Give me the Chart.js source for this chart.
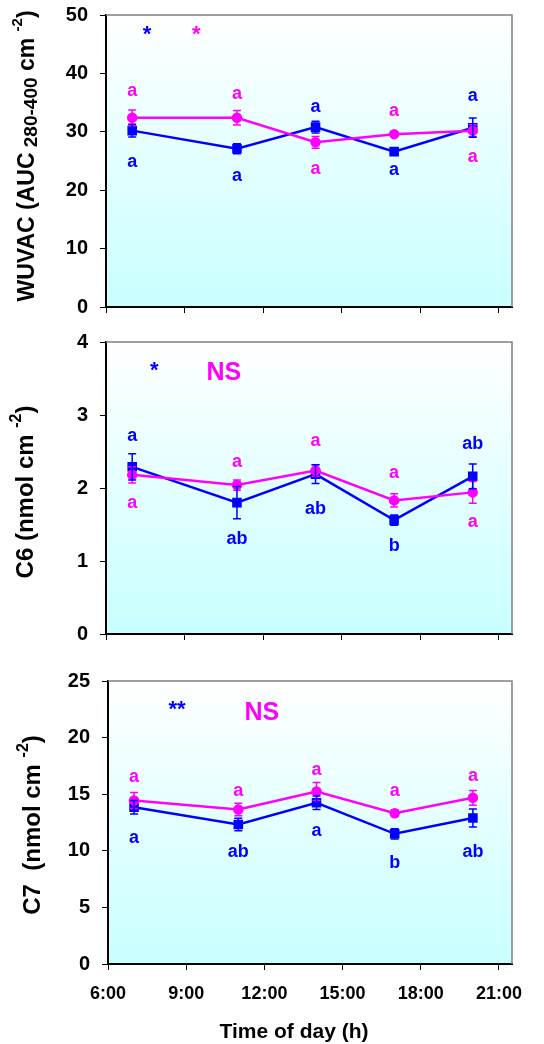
<!DOCTYPE html>
<html>
<head>
<meta charset="utf-8">
<script src="https://cdn.jsdelivr.net/npm/chart.js@4.4.0/dist/chart.umd.min.js"></script>
<style>
  body { margin: 0; background: #fff; }
  canvas { position: absolute; left: 0; }
</style>
</head>
<body>
<canvas id="wuvac" width="544" height="330" style="top:0"></canvas>
<canvas id="c6" width="544" height="330" style="top:330px"></canvas>
<canvas id="c7" width="544" height="384" style="top:660px"></canvas>
<script>
const FONT = "'Liberation Sans', Arial, sans-serif";
const BLUE = '#0000ff';
const PINK = '#ff00ff';

const hours = [7, 11, 14, 17, 20];
const hourTicks = [6, 9, 12, 15, 18, 21];
const hourLabels = ['6:00', '9:00', '12:00', '15:00', '18:00', '21:00'];

// WUVAC
const wuvacBlue = [30.2, 27.1, 30.8, 26.6, 30.7];
const wuvacBlueErr = [1.1, 0.85, 1.0, 0.4, 1.65];
const wuvacPink = [32.4, 32.4, 28.2, 29.6, 30.2];
const wuvacPinkErr = [1.35, 1.25, 1.0, 0.3, 1.0];
const wuvacBlueLetters = ['a', 'a', 'a', 'a', 'a'];
const wuvacBlueLetterY = [24.9, 22.5, 34.3, 23.4, 36.2];
const wuvacPinkLetters = ['a', 'a', 'a', 'a', 'a'];
const wuvacPinkLetterY = [36.9, 36.5, 23.7, 33.5, 25.6];

// C6
const c6Blue = [2.29, 1.80, 2.19, 1.56, 2.16];
const c6BlueErr = [0.18, 0.22, 0.13, 0.07, 0.17];
const c6Pink = [2.18, 2.04, 2.24, 1.83, 1.94];
const c6PinkErr = [0.11, 0.07, 0.08, 0.09, 0.15];
const c6BlueLetters = ['a', 'ab', 'ab', 'b', 'ab'];
const c6BlueLetterY = [2.71, 1.30, 1.71, 1.21, 2.60];
const c6PinkLetters = ['a', 'a', 'a', 'a', 'a'];
const c6PinkLetterY = [1.79, 2.36, 2.65, 2.21, 1.53];

// C7
const c7Blue = [13.85, 12.32, 14.24, 11.5, 12.9];
const c7BlueErr = [0.6, 0.55, 0.6, 0.45, 0.8];
const c7Pink = [14.44, 13.65, 15.24, 13.32, 14.68];
const c7PinkErr = [0.7, 0.55, 0.8, 0.3, 0.65];
const c7BlueLetters = ['a', 'ab', 'a', 'b', 'ab'];
const c7BlueLetterY = [11.15, 9.85, 11.75, 8.9, 9.9];
const c7PinkLetters = ['a', 'a', 'a', 'a', 'a'];
const c7PinkLetterY = [16.5, 15.3, 17.1, 15.3, 16.6];

// significance marks: text, series, x (h), y
const wuvacNotes = [['*', 'blue', 7.57, 47.0], ['*', 'pink', 9.45, 47.0]];
const c6Notes = [['*', 'blue', 7.84, 3.63], ['NS', 'pink', 10.5, 3.58]];
const c7Notes = [['**', 'blue', 8.65, 22.6], ['NS', 'pink', 11.9, 22.2]];

function text(ctx, str, x, y, size, color, baseline) {
  ctx.font = 'bold ' + size + 'px ' + FONT;
  ctx.fillStyle = color;
  ctx.textAlign = 'center';
  ctx.textBaseline = baseline || 'middle';
  ctx.fillText(str, x, y);
}

function makeChart(id, p) {
  const series = [
    { name: 'pink', data: p.pink, err: p.pinkErr, color: PINK, style: 'circle', r: 4, letters: p.pinkLetters, letterY: p.pinkLetterY },
    { name: 'blue', data: p.blue, err: p.blueErr, color: BLUE, style: 'rect', r: 5, letters: p.blueLetters, letterY: p.blueLetterY }
  ];

  const extras = {
    id: 'extras',
    beforeDraw(chart) {
      const { ctx, chartArea: a } = chart;
      const g = ctx.createLinearGradient(0, a.top, 0, a.bottom);
      g.addColorStop(0, '#ffffff');
      g.addColorStop(1, '#c8ffff');
      ctx.fillStyle = g;
      ctx.fillRect(a.left, a.top, a.width, a.height);
    },
    afterDatasetsDraw(chart) {
      const { ctx } = chart;
      const ys = chart.scales.y, xs = chart.scales.x;
      series.forEach((s, di) => {
        const meta = chart.getDatasetMeta(di);
        ctx.save();
        ctx.strokeStyle = s.color;
        ctx.lineWidth = 1.5;
        meta.data.forEach((pt, i) => {
          const top = ys.getPixelForValue(s.data[i] + s.err[i]);
          const bot = ys.getPixelForValue(s.data[i] - s.err[i]);
          ctx.beginPath();
          ctx.moveTo(pt.x, top); ctx.lineTo(pt.x, bot);
          ctx.moveTo(pt.x - 4, top); ctx.lineTo(pt.x + 4, top);
          ctx.moveTo(pt.x - 4, bot); ctx.lineTo(pt.x + 4, bot);
          ctx.stroke();
        });
        ctx.restore();
        s.letters.forEach((l, i) => {
          text(ctx, l, xs.getPixelForValue(hours[i]), ys.getPixelForValue(s.letterY[i]), 18, s.color);
        });
      });
      p.notes.forEach(n => {
        const color = n[1] === 'blue' ? BLUE : PINK;
        const x = xs.getPixelForValue(n[2]), y = ys.getPixelForValue(n[3]);
        if (n[0] === 'NS') text(ctx, n[0], x, y, 25, color);
        else text(ctx, n[0], x, y + 8, 22, color, 'alphabetic');
      });
    },
    afterDraw(chart) {
      const { ctx, chartArea: a } = chart;
      ctx.save();
      ctx.strokeStyle = '#808080';
      ctx.lineWidth = 1.5;
      ctx.beginPath();
      ctx.moveTo(a.left, a.top); ctx.lineTo(a.right, a.top); ctx.lineTo(a.right, a.bottom);
      ctx.stroke();
      // y title with sub/superscripts
      ctx.translate(p.title.x, p.title.y);
      ctx.rotate(-Math.PI / 2);
      ctx.textBaseline = 'middle';
      ctx.textAlign = 'left';
      ctx.fillStyle = '#000';
      let total = 0;
      p.title.parts.forEach(part => {
        ctx.font = 'bold ' + part.s + 'px ' + FONT;
        total += ctx.measureText(part.t).width;
      });
      let x = -total / 2;
      p.title.parts.forEach(part => {
        ctx.font = 'bold ' + part.s + 'px ' + FONT;
        ctx.fillText(part.t, x, part.dy || 0);
        x += ctx.measureText(part.t).width;
      });
      ctx.restore();
      if (p.xTitle) text(ctx, 'Time of day (h)', 294, 372, 21, '#000');
    }
  };

  return new Chart(document.getElementById(id), {
    type: 'line',
    data: {
      datasets: series.map(s => ({
        label: s.name,
        data: hours.map((h, i) => ({ x: h, y: s.data[i] })),
        borderColor: s.color,
        backgroundColor: s.color,
        borderWidth: 2.5,
        pointStyle: s.style,
        pointRadius: s.r,
        tension: 0
      }))
    },
    options: {
      responsive: false,
      animation: false,
      events: [],
      layout: { padding: { top: p.top, right: 32, left: 0, bottom: 0 } },
      plugins: { legend: { display: false }, tooltip: { enabled: false } },
      scales: {
        x: {
          type: 'linear', min: 6, max: 21.5,
          afterBuildTicks: s => { s.ticks = hourTicks.map(v => ({ value: v })); },
          afterFit: s => { s.height = p.xHeight; s.paddingLeft = 0; s.paddingRight = 0; },
          ticks: {
            display: !!p.xTitle, autoSkip: false, maxRotation: 0, padding: 13, color: '#000',
            font: { family: FONT, size: 18, weight: 'bold' },
            callback: (v, i) => hourLabels[i]
          },
          grid: { drawOnChartArea: false, drawTicks: true, tickLength: 6, color: '#000', lineWidth: 1 },
          border: { color: '#000', width: 2 }
        },
        y: {
          min: 0, max: p.max,
          ticks: { stepSize: p.step, padding: 12, color: '#000', font: { family: FONT, size: 20, weight: 'bold' } },
          afterFit: s => { s.width = p.left; s.paddingTop = 0; s.paddingBottom = 0; },
          grid: { drawOnChartArea: false, drawTicks: true, tickLength: 6, color: '#000', lineWidth: 1 },
          border: { color: '#000', width: 2 }
        }
      }
    },
    plugins: [extras]
  });
}

makeChart('wuvac', {
  blue: wuvacBlue, blueErr: wuvacBlueErr, pink: wuvacPink, pinkErr: wuvacPinkErr,
  blueLetters: wuvacBlueLetters, blueLetterY: wuvacBlueLetterY,
  pinkLetters: wuvacPinkLetters, pinkLetterY: wuvacPinkLetterY,
  notes: wuvacNotes, max: 50, step: 10, top: 15, left: 106, xHeight: 23,
  title: { x: 28, y: 156, parts: [
    { t: 'WUVAC (AUC', s: 23 }, { t: ' 280-400', s: 19, dy: 4 }, { t: ' cm ', s: 23 },
    { t: '-2', s: 15, dy: -10 }, { t: ')', s: 23 }] }
});

makeChart('c6', {
  blue: c6Blue, blueErr: c6BlueErr, pink: c6Pink, pinkErr: c6PinkErr,
  blueLetters: c6BlueLetters, blueLetterY: c6BlueLetterY,
  pinkLetters: c6PinkLetters, pinkLetterY: c6PinkLetterY,
  notes: c6Notes, max: 4, step: 1, top: 12, left: 106, xHeight: 26,
  title: { x: 26, y: 162, parts: [
    { t: 'C6 (nmol cm ', s: 24 }, { t: '-2', s: 16, dy: -9 }, { t: ')', s: 24 }] }
});

makeChart('c7', {
  blue: c7Blue, blueErr: c7BlueErr, pink: c7Pink, pinkErr: c7PinkErr,
  blueLetters: c7BlueLetters, blueLetterY: c7BlueLetterY,
  pinkLetters: c7PinkLetters, pinkLetterY: c7PinkLetterY,
  notes: c7Notes, max: 25, step: 5, top: 21, left: 108, xHeight: 80, xTitle: true,
  title: { x: 33, y: 165, parts: [
    { t: 'C7  (nmol cm ', s: 24 }, { t: '-2', s: 16, dy: -9 }, { t: ')', s: 24 }] }
});
</script>
</body>
</html>
